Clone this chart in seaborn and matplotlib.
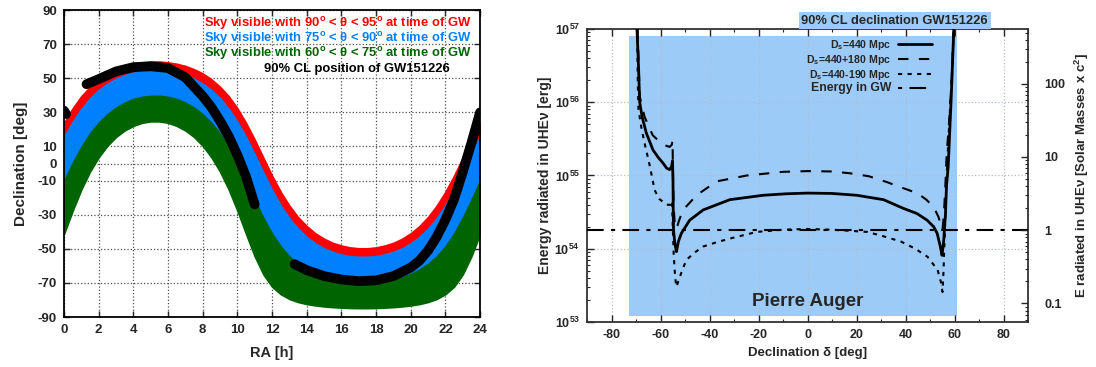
import numpy as np
import matplotlib
matplotlib.use("Agg")
import matplotlib.pyplot as plt
import matplotlib.transforms as mtransforms
from matplotlib.lines import Line2D
from matplotlib.ticker import FixedLocator, FixedFormatter, LogLocator, NullFormatter, MultipleLocator
import seaborn as sns

# ---------------- left panel: visible sky bands, dec [deg] at RA = 0, 0.5, ... 24 h
ra_grid = np.arange(0, 24.5, 0.5)
dec_theta95 = [23.8, 32.4, 39.5, 45.0, 49.4, 52.8, 55.3, 57.2, 58.5, 59.3, 59.8, 59.8, 59.3, 58.5, 57.2, 55.3,
               52.8, 49.4, 45.0, 39.5, 32.4, 23.8, 14.0, 3.4, -7.1, -16.6, -24.7, -31.4, -36.7, -40.9, -44.1,
               -46.5, -48.1, -49.2, -49.7, -49.7, -49.2, -48.1, -46.5, -44.1, -40.9, -36.7, -31.4, -24.7,
               -16.6, -7.1, 3.4, 14.0, 23.8]
dec_theta90 = [15.5, 24.5, 32.1, 38.2, 43.1, 46.8, 49.7, 51.8, 53.3, 54.3, 54.7, 54.7, 54.3, 53.3, 51.8, 49.7,
               46.8, 43.1, 38.2, 32.1, 24.5, 15.5, 5.3, -5.3, -15.5, -24.5, -32.1, -38.2, -43.1, -46.8, -49.7,
               -51.8, -53.3, -54.3, -54.7, -54.7, -54.3, -53.3, -51.8, -49.7, -46.8, -43.1, -38.2, -32.1,
               -24.5, -15.5, -5.3, 5.3, 15.5]
dec_theta75 = [-10.2, 0.4, 9.7, 17.6, 23.9, 28.9, 32.8, 35.7, 37.8, 39.1, 39.7, 39.7, 39.1, 37.8, 35.7, 32.8,
               28.9, 23.9, 17.6, 9.7, 0.4, -10.2, -21.3, -31.9, -41.1, -48.6, -54.5, -58.9, -62.2, -64.7,
               -66.6, -67.9, -68.9, -69.5, -69.8, -69.8, -69.5, -68.9, -67.9, -66.6, -64.7, -62.2, -58.9,
               -54.5, -48.6, -41.1, -31.9, -21.3, -10.2]
dec_theta60 = [-41.3, -27.6, -15.2, -4.7, 3.7, 10.4, 15.6, 19.4, 22.1, 23.9, 24.7, 24.7, 23.9, 22.1, 19.4,
               15.6, 10.4, 3.7, -4.7, -15.2, -27.6, -41.3, -54.4, -65.0, -72.2, -76.6, -79.4, -81.2, -82.4,
               -83.2, -83.8, -84.2, -84.5, -84.7, -84.8, -84.8, -84.7, -84.5, -84.2, -83.8, -83.2, -82.4,
               -81.2, -79.4, -76.6, -72.2, -65.0, -54.4, -41.3]

# 90% CL position of GW151226 (centre of the black strip, three pieces)
gw_ra_a = [1.3, 2.0, 3.0, 4.0, 5.0, 6.0, 7.0, 7.5, 8.0, 8.5, 9.0, 9.5, 10.0, 10.5, 11.0]
gw_dec_a = [46.5, 49.5, 54.0, 56.5, 57.0, 56.0, 50.5, 45.0, 39.5, 33.0, 25.0, 16.0, 5.0, -7.7, -24.0]
gw_ra_b = [13.3, 14.0, 15.0, 16.0, 17.0, 18.0, 19.0, 20.0, 20.5, 21.0, 21.5, 22.0, 22.5, 23.0, 23.5, 24.0]
gw_dec_b = [-59.0, -62.5, -66.0, -68.0, -69.0, -68.5, -66.0, -61.0, -57.0, -51.0, -43.0, -33.0, -21.0,
            -5.0, 12.0, 30.0]
gw_ra_c = [0.0, 0.12]
gw_dec_c = [31.0, 29.0]

ra_ticks = list(range(0, 25, 2))
dec_ticks = [90, 70, 50, 30, 10, 0, -10, -30, -50, -70, -90]

# ---------------- right panel: energy in UHE neutrinos, log10(E / erg) vs declination
dec_440 = [-69.6, -69.0, -68.5, -67.5, -65.8, -63.1, -61.0, -59.0, -57.5, -56.3, -55.5, -55.1, -54.9, -54.8,
           -54.7, -54.2, -53.5, -52.7, -51.5, -48.1, -42.6, -31.7, -18.1, -9.0, 0.0, 10.0, 20.1, 31.0, 39.2,
           44.7, 48.8, 51.5, 52.9, 54.2, 54.9, 55.6, 56.3, 56.7, 57.4, 58.6, 59.7]
loge_440 = [57.0, 56.5, 56.0, 55.8, 55.58, 55.35, 55.25, 55.17, 55.1, 55.08, 55.12, 55.2, 54.9, 54.5,
            54.26, 54.08, 53.96, 54.1, 54.21, 54.39, 54.53, 54.67, 54.73, 54.75, 54.76, 54.755, 54.73, 54.67,
            54.55, 54.48, 54.39, 54.30, 54.21, 54.03, 53.91, 54.12, 54.48, 54.85, 55.12, 56.03, 57.0]
dec_620 = [-69.4, -68.9, -68.5, -66.5, -63.2, -60.0, -58.0, -56.3, -55.4, -55.1, -54.9, -54.7, -54.2, -53.5,
           -52.5, -50.8, -45.3, -37.1, -24.8, -10.0, 0.0, 10.0, 17.4, 25.0, 32.4, 38.0, 44.7, 48.5, 51.5,
           53.5, 54.6, 55.1, 55.7, 56.3, 56.8, 57.5, 58.3, 59.0, 59.6]
loge_620 = [57.0, 56.5, 56.08, 55.8, 55.55, 55.45, 55.41, 55.39, 55.42, 55.48, 55.0, 54.6, 54.35, 54.27,
            54.38, 54.53, 54.73, 54.92, 55.0, 55.05, 55.06, 55.055, 55.03, 54.99, 54.91, 54.84, 54.76,
            54.67, 54.57, 54.43, 54.3, 54.26, 54.5, 54.9, 55.3, 55.6, 56.0, 56.4, 57.0]
dec_250 = [-69.5, -69.3, -69.0, -67.8, -66.5, -64.5, -62.4, -60.5, -59.0, -57.0, -55.7, -55.3, -55.0, -54.6,
           -54.0, -53.5, -52.5, -51.0, -49.4, -46.0, -42.6, -37.0, -31.6, -20.7, -10.0, 0.0, 10.0, 24.4,
           31.0, 38.0, 44.0, 49.0, 53.1, 54.4, 55.1, 55.5, 55.9, 56.3, 56.8, 57.5, 58.3, 59.1, 59.7]
loge_250 = [57.0, 56.3, 55.9, 55.65, 55.44, 55.15, 54.8, 54.68, 54.64, 54.6, 54.6, 54.65, 54.3, 53.9,
            53.6, 53.48, 53.58, 53.72, 53.85, 53.95, 54.03, 54.09, 54.14, 54.23, 54.26, 54.27, 54.26, 54.23,
            54.17, 54.10, 54.0, 53.89, 53.71, 53.55, 53.41, 53.7, 54.1, 54.5, 55.0, 55.5, 56.0, 56.5, 57.0]

msun_c2_erg = 1.79e54
gw_energy_msun = 1.0
cl_dec_min, cl_dec_max = -73.0, 61.0
right_ticks = [0.1, 1, 10, 100]

red, blue, green = "#ff0000", "#0080ff", "#006400"
cl_blue = "#9dcbf8"

sns.set_theme(style="ticks")
plt.rcParams["font.family"] = ["Liberation Sans", "DejaVu Sans"]
plt.rcParams["font.weight"] = "bold"
plt.rcParams["axes.labelweight"] = "bold"
plt.rcParams["axes.unicode_minus"] = False
plt.rcParams["mathtext.fontset"] = "custom"
plt.rcParams["mathtext.rm"] = "Liberation Sans:bold"
plt.rcParams["mathtext.bf"] = "Liberation Sans:bold"
plt.rcParams["mathtext.it"] = "Liberation Sans:bold:italic"
plt.rcParams["mathtext.default"] = "regular"

fig = plt.figure(figsize=(10.96, 3.67), dpi=100)
fig.patch.set_facecolor("white")

# ================= left panel
ax1 = fig.add_axes([0.0584, 0.1362, 0.3796, 0.8365])
for upper, lower, col in [(dec_theta95, dec_theta90, red),
                          (dec_theta90, dec_theta75, blue),
                          (dec_theta75, dec_theta60, green)]:
    ax1.fill_between(ra_grid, lower, upper, color=col, edgecolor=col, lw=1.2, zorder=2)

for xs, ys in [(gw_ra_a, gw_dec_a), (gw_ra_b, gw_dec_b), (gw_ra_c, gw_dec_c)]:
    sns.lineplot(x=xs, y=ys, ax=ax1, color="black", lw=7, sort=False, estimator=None, zorder=3)
for ln in ax1.lines:
    ln.set_solid_capstyle("round")

ax1.set_xlim(0, 24)
ax1.set_ylim(-90, 90)
ax1.set_xticks(ra_ticks)
ax1.set_yticks(dec_ticks)
ax1.grid(True, ls=":", color="0.3", lw=0.9)
ax1.set_axisbelow(True)
ax1.tick_params(direction="in", top=True, right=True, length=4, width=1, labelsize=9.5, pad=5)
for sp in ax1.spines.values():
    sp.set_color("black")
    sp.set_linewidth(1.3)
ax1.set_xlabel("RA [h]", fontsize=10.5, labelpad=7)
ax1.set_ylabel("Declination [deg]", fontsize=11, labelpad=7)

key_txt = [(r"Sky visible with 90$^{\rm o}$ < $\theta$ < 95$^{\rm o}$ at time of GW", red, 0.980, 0.955),
           (r"Sky visible with 75$^{\rm o}$ < $\theta$ < 90$^{\rm o}$ at time of GW", blue, 0.980, 0.906),
           (r"Sky visible with 60$^{\rm o}$ < $\theta$ < 75$^{\rm o}$ at time of GW", green, 0.980, 0.857),
           ("90% CL position of GW151226", "black", 0.928, 0.809)]
for txt, col, xx, yy in key_txt:
    ax1.text(xx, yy, txt, color=col, fontsize=9.4, fontweight="bold", ha="right", va="center",
             transform=ax1.transAxes, zorder=5)

# ================= right panel
ax2 = fig.add_axes([0.5356, 0.1226, 0.4024, 0.7984])
ax2.set_yscale("log")
ax2.axvspan(cl_dec_min, cl_dec_max, ymin=0.02, ymax=0.976, color=cl_blue, lw=0, zorder=0.2)

series = [(dec_440, loge_440, "D$_{\\rm s}$=440 Mpc", "-", 2.0),
          (dec_620, loge_620, "D$_{\\rm s}$=440+180 Mpc", (0, (5, 5)), 1.5),
          (dec_250, loge_250, "D$_{\\rm s}$=440-190 Mpc", (0, (2, 2.6)), 1.5)]
handles, labels = [], []
for dec, loge, lab, ls, lw in series:
    sns.lineplot(x=dec, y=10.0 ** np.array(loge), ax=ax2, color="black", lw=lw, linestyle=ls,
                 sort=False, estimator=None, zorder=3)
    handles.append(ax2.lines[-1])
    labels.append(lab)
gw_ls = (0, (8, 3.5, 2, 3.5))
ax2.axhline(gw_energy_msun * msun_c2_erg, color="black", lw=1.5, linestyle=gw_ls, zorder=3)
handles.append(Line2D([], [], color="black", lw=1.5, linestyle=(0, (2, 3.5, 8, 3.5))))
labels.append("Energy in GW")

ax2.set_xlim(-90, 90)
ax2.set_ylim(1e53, 1e57)
ax2.xaxis.set_major_locator(MultipleLocator(20))
ax2.xaxis.set_minor_locator(MultipleLocator(10))
ax2.yaxis.set_major_locator(LogLocator(base=10, numticks=10))
ax2.yaxis.set_minor_locator(LogLocator(base=10, subs=np.arange(2, 10), numticks=10))
ax2.yaxis.set_minor_formatter(NullFormatter())
ax2.grid(True, which="major", ls=":", color="#b4bccb", lw=0.9)
ax2.set_axisbelow(True)
ax2.tick_params(which="both", direction="in", top=True, labelsize=9, pad=5)
ax2.tick_params(which="major", length=5, width=1)
ax2.tick_params(which="minor", length=2.5, width=0.8)
for sp in ax2.spines.values():
    sp.set_color("#333333")
    sp.set_linewidth(1.3)
ax2.set_xlabel("Declination \u03b4 [deg]", fontsize=9.5, labelpad=4)
ax2.set_ylabel("Energy radiated in UHE\u03bd [erg]", fontsize=10, labelpad=2)

leg = ax2.legend(handles, labels, loc="upper right", bbox_to_anchor=(0.80, 0.995), frameon=False,
                 markerfirst=False, fontsize=7.6, handlelength=3.3, handletextpad=0.6, labelspacing=0.08,
                 borderaxespad=0.3)
leg.get_texts()[3].set_fontsize(8.8)

title_tr = mtransforms.blended_transform_factory(ax2.transData, ax2.transAxes)
ax2.text(35.6, 1.008, "90% CL declination GW151226", transform=title_tr, ha="center", va="bottom",
         fontsize=9.3, fontweight="bold", clip_on=False,
         bbox=dict(facecolor=cl_blue, edgecolor="none", pad=1.8))
ax2.text(0, 0.07, "Pierre Auger", transform=title_tr, ha="center", va="center", fontsize=13.5,
         fontweight="bold", zorder=4)

ax3 = ax2.twinx()
ax3.set_yscale("log")
ax3.set_ylim(1e53 / msun_c2_erg, 1e57 / msun_c2_erg)
ax3.yaxis.set_major_locator(FixedLocator(right_ticks))
ax3.yaxis.set_major_formatter(FixedFormatter(["0.1", "1", "10", "100"]))
ax3.yaxis.set_minor_locator(LogLocator(base=10, subs=np.arange(2, 10), numticks=10))
ax3.yaxis.set_minor_formatter(NullFormatter())
ax3.tick_params(which="both", direction="in", labelsize=9, pad=12)
ax3.tick_params(which="major", length=5, width=1)
ax3.tick_params(which="minor", length=2.5, width=0.8)
for sp in ax3.spines.values():
    sp.set_visible(False)
ax3.set_ylabel("E radiated in UHE\u03bd [Solar Masses x c$^{2}$]", fontsize=9.5, labelpad=5)

fig.savefig("out.png", dpi=100, facecolor="white")
